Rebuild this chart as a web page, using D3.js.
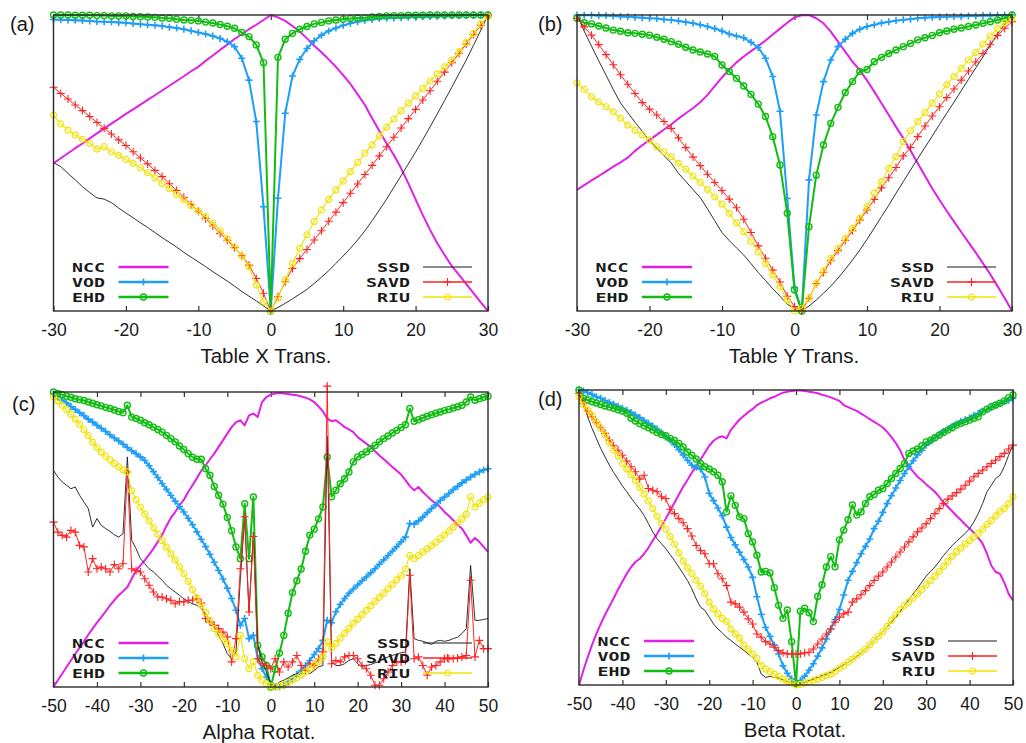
<!DOCTYPE html>
<html>
<head>
<meta charset="utf-8">
<script src="https://cdn.jsdelivr.net/npm/d3@7"></script>
<style>
  body { margin: 0; background: #fff; }
  svg  { display: block; }
</style>
</head>
<body>
<svg id="fig" width="1026" height="743"></svg>
<script>
// ── x grids & ticks ──────────────────────────────────────────────────────
const xTrans = d3.range(-30, 31);          // table translation, step 1
const xRot   = d3.range(-50, 51);          // rotation, step 1
const ticksTrans = [-30, -20, -10, 0, 10, 20, 30];
const ticksRot   = [-50, -40, -30, -20, -10, 0, 10, 20, 30, 40, 50];
const leftKeys  = ['NCC', 'VOD', 'EHD'];
const rightKeys = ['SSD', 'SAVD', 'RIU'];

// ── (a) Table X Trans. — normalised measure, % ───────────────────────────
const aNCC  = [49.9,51.6,53.3,55.0,56.6,58.3,60.0,61.7,63.3,64.9,66.6,68.1,69.7,71.3,72.9,74.5,76.1,77.7,79.3,81.0,82.5,84.5,86.3,88.2,90.0,91.9,93.5,95.2,96.7,98.3,100,
               99.2,98.0,96.3,94.4,92.1,89.6,87.4,85.0,82.5,79.7,76.7,73.2,69.6,65.1,60.8,56.6,52.7,48.2,43.1,37.7,32.4,27.4,22.9,18.9,15.2,12.2,9.1,6.0,2.9,0];
const aVOD  = [98.5,98.4,98.3,98.2,98.1,98.0,97.8,97.7,97.6,97.5,97.4,97.1,96.9,96.7,96.5,96.3,95.9,95.6,95.2,94.7,94.1,93.6,92.9,92.1,91.0,89.3,85.4,78.0,64.0,35.2,0,
               38.1,66.8,79.4,85.0,88.7,91.3,93.2,94.6,95.6,96.5,97.2,97.7,98.2,98.5,98.8,98.9,99.0,99.1,99.2,99.3,99.4,99.5,99.6,99.7,99.8,99.8,99.9,99.9,100,100];
const aEHD  = [100,100,100,99.9,99.9,99.9,99.8,99.8,99.7,99.7,99.7,99.5,99.4,99.3,99.2,99.0,98.9,98.6,98.3,98.2,98.0,97.6,97.3,96.8,96.2,95.5,94.1,92.7,89.9,83.9,0,
               85.7,91.8,93.8,95.2,96.1,97.0,97.5,98.0,98.3,98.6,98.8,99.0,99.1,99.3,99.5,99.7,99.8,99.8,99.9,99.9,99.9,100,100,100,100,100,100,100,100,100];
const aSSD  = [50.1,48.8,46.5,44.3,42.0,40.0,38.2,37.8,36.6,34.8,33.1,31.5,29.8,28.2,26.5,24.8,23.2,21.6,19.8,18.2,16.6,15.0,13.3,11.7,10.1,8.4,6.6,5.0,3.4,1.7,0,
               1.2,2.6,4.1,5.7,7.3,9.3,11.4,13.6,16.1,18.6,21.2,24.0,27.1,30.5,34.1,37.8,41.8,45.7,49.7,53.7,57.9,62.2,66.6,71.1,75.6,80.2,84.8,89.8,94.8,100];
const aSAVD = [75.6,73.5,71.6,69.6,67.7,65.7,63.7,61.7,59.8,57.8,55.9,53.8,51.7,49.7,47.5,45.4,43.0,40.7,38.4,36.0,33.7,31.2,28.7,26.2,23.9,21.4,18.7,15.5,11.0,6.0,0,
               4.8,9.9,14.4,17.7,20.8,24.0,27.1,30.3,33.4,36.6,39.8,42.9,46.1,49.2,52.4,55.5,58.7,61.8,65.0,68.1,71.3,74.4,77.6,80.7,83.9,87.0,90.2,93.4,96.5,99.7];
const aRIU  = [66.2,63.2,61.1,59.5,58.0,56.6,54.7,55.5,53.8,52.6,51.2,49.9,48.4,46.7,45.0,43.1,41.3,39.4,37.5,35.6,33.8,31.9,29.6,27.2,24.5,21.7,18.6,15.0,8.8,3.2,0,
               4.3,10.5,16.1,21.2,25.7,30.2,34.1,37.7,40.9,43.9,47.1,50.2,53.3,56.1,59.1,62.1,64.8,67.6,70.2,72.6,75.2,77.7,80.1,82.5,84.8,87.6,90.7,93.8,97.0,99.4];

// ── (b) Table Y Trans. ───────────────────────────────────────────────────
const bNCC  = [40.9,42.5,44.1,45.6,47.2,48.8,50.2,51.8,54.1,56.0,57.8,59.5,61.3,63.0,65.0,66.8,68.5,70.5,73.0,76.0,78.9,81.6,84.0,86.0,87.8,89.5,91.4,93.4,95.4,97.4,99.2,
               99.9,100,98.9,97.2,94.4,91.0,87.6,84.2,81.4,77.9,74.1,70.2,66.2,62.2,58.4,54.2,49.9,45.6,41.4,37.5,33.8,30.2,26.7,23.2,19.7,16.1,12.4,8.4,4.3,0];
const bVOD  = [100,99.9,99.9,99.8,99.8,99.7,99.5,99.4,99.2,99.1,98.9,98.8,98.5,98.3,98.0,97.6,97.2,96.7,96.1,95.4,94.6,93.6,92.9,92.3,90.8,89.0,85.4,79.2,67.5,38.0,8.0,
               0,44.3,66.2,77.5,84.8,89.3,91.8,93.8,95.2,96.1,96.7,97.3,97.7,98.1,98.4,98.6,98.9,99.1,99.2,99.3,99.4,99.5,99.5,99.7,99.7,99.8,99.8,99.9,99.9,100];
const bEHD  = [98.9,97.4,97.0,96.3,95.6,94.9,94.5,94.0,93.8,93.5,93.2,92.5,91.8,91.0,90.1,89.1,88.2,87.5,86.8,86.0,83.1,80.9,78.6,76.0,73.2,69.9,65.7,58.9,49.3,33.0,7.1,
               0,28.5,45.9,56.1,63.4,68.8,73.8,77.5,80.9,81.6,84.2,85.7,87.0,88.2,89.3,90.4,91.6,92.3,93.1,94.0,94.6,95.2,95.6,96.1,96.6,97.2,97.7,98.3,98.9,100];
const bSSD  = [100,94.5,89.5,84.5,79.7,74.8,70.3,67.0,63.8,60.7,57.5,55.0,52.5,50.0,46.5,43.8,41.0,38.3,34.5,30.5,26.5,23.8,21.3,18.9,16.0,13.0,10.3,7.5,5.0,2.3,0.8,
               0,1.7,3.7,6.0,8.4,11.1,14.1,17.2,20.6,24.2,28.0,31.9,35.7,39.8,43.7,47.6,51.5,55.3,59.1,63.0,66.8,70.6,74.4,78.3,82.1,85.9,89.8,93.6,97.0,100];
const bSAVD = [98.9,96.0,93.2,90.0,86.6,83.2,79.8,76.6,73.5,70.4,68.2,66.2,64.0,61.7,58.5,55.2,52.0,49.1,46.2,43.4,40.7,37.8,34.9,31.0,26.5,22.0,17.8,13.8,9.8,5.0,1.5,
               0,4.3,9.3,13.0,17.0,20.4,23.8,27.1,30.7,34.1,37.7,41.6,45.0,48.5,52.4,55.2,58.9,62.5,65.9,69.0,72.1,75.0,78.0,81.1,84.1,87.0,90.1,93.1,95.5,97.7];
const bRIU  = [77.1,74.9,72.4,70.6,69.0,67.3,65.1,62.8,61.1,59.5,57.8,55.5,53.8,52.1,49.9,47.9,45.6,43.4,41.1,38.6,36.1,33.0,29.8,26.8,23.4,20.0,16.1,12.2,8.2,3.7,0,
               0.9,4.3,9.3,13.6,17.8,21.2,24.5,27.9,31.3,35.2,39.8,43.7,48.2,52.1,57.2,60.9,64.0,67.0,70.2,73.3,76.4,79.2,82.0,84.8,87.3,90.2,92.9,95.4,97.4,98.9];

// ── (c) Alpha Rotat. ─────────────────────────────────────────────────────
const cNCC  = [0,2.3,4.5,6.8,9.0,11.2,13.3,15.4,17.7,19.8, 21.8,23.7,25.6,27.7,29.4,31.1,32.4,33.9,36.7,39.5,
               41.2,42.9,44.9,46.9,49.2,51.6,54.6,57.3,59.3,61.6, 63.5,66.1,68.4,70.8,73.3,75.1,77.2,79.1,81.4,83.6,
               85.9,88.1,89.8,90.4,88.7,92.1,92.7,91.5,96.6,98.3, 99.1,99.5,99.7,99.5,99.3,99.1,98.9,98.5,98.1,97.5,
               96.6,95.1,93.4,91.0,90.1,90.4,89.3,88.1,87.3,86.4, 84.7,83.6,82.5,81.4,79.9,78.5,77.2,75.9,74.6,73.3,
               72.0,70.1,68.1,66.7,67.8,66.1,64.7,63.3,62.1,61.0, 59.3,58.0,56.5,55.0,53.7,51.4,48.9,50.5,49.2,47.5,45.8];
const cVOD  = [99.4,98.4,97.3,96.3,95.1,94.1,93.0,92.0,90.8,89.8, 88.7,87.7,86.6,85.5,84.4,83.4,82.3,81.2,80.1,79.1,
               78.0,76.8,75.0,73.0,71.0,69.0,67.0,65.0,63.0,61.2, 59.3,57.2,55.0,52.6,50.1,47.6,45.0,42.3,39.5,36.6,
               33.5,30.0,26.0,20.9,23.2,16.4,17.5,9.6,6.2,3.4, 1.1,0,0,0.6,1.7,2.8,4.2,5.6,7.3,9.0,
               11.0,13.0,15.8,22.6,21.8,25.5,28.0,30.0,31.8,33.2, 34.6,36.0,37.3,38.7,40.1,41.6,43.1,44.6,46.1,47.6,
               49.2,50.8,55.4,55.2,56.3,57.6,59.1,60.5,61.8,63.2, 64.4,65.6,66.9,68.0,69.2,70.2,71.2,72.1,72.9,73.6,74.0];
const cEHD  = [100,99.5,99.1,98.6,98.2,97.7,97.4,97.1,96.6,96.2, 95.7,95.3,94.8,94.4,93.9,93.4,93.0,95.5,91.5,91.0,
               90.4,89.6,88.9,88.1,87.3,86.4,85.3,84.2,83.1,81.7, 80.5,79.1,77.9,77.2,77.2,74.0,71.8,68.0,65.0,62.0,
               57.5,53.0,47.5,43.5,62.1,43.5,64.4,14.1,10.2,7.3, 0,6.0,11.5,17.5,25.0,32.0,36.0,40.0,46.0,51.5,
               53.5,57.0,61.0,78.0,64.5,66.7,68.9,70.6,72.9,76.3, 78.0,78.8,79.7,80.8,81.9,83.1,84.2,85.1,86.1,87.0,
               88.0,88.9,94.4,90.1,90.6,91.2,91.8,92.3,92.8,93.2, 93.7,94.1,94.6,95.0,95.5,96.6,98.3,97.2,97.7,98.2,98.6];
const cSSD  = [73.4,71.2,69.5,68.4,67.2,67.8,65.0,62.7,60.5,54.2, 57.1,54.8,53.7,52.8,51.6,50.8,52.0,78.0,49.7,46.9,
               43.5,41.8,40.1,39.0,37.6,36.2,34.5,33.3,32.2,31.1, 29.9,29.0,28.2,27.7,26.6,24.9,22.6,20.3,17.5,14.7,
               11.3,9.6,11.9,36.7,57.1,25.4,52.5,14.1,8.5,5.1, 1.1,0.6,1.7,2.3,3.1,4.0,4.5,5.1,6.2,4.5,
               5.6,6.8,7.3,85.0,8.5,7.3,7.3,7.9,9.0,9.6, 7.9,6.8,7.3,7.6,8.2,8.7,9.6,10.2,10.7,11.2,
               11.6,11.9,40.1,16.4,15.8,15.5,15.0,14.4,15.5,15.8, 15.5,15.8,16.4,16.9,18.1,19.8,41.2,22.6,22.6,22.9,23.2];
const cSAVD = [55.9,52.5,51.4,50.8,53.1,52.5,48.0,47.5,39.0,43.5, 40.1,40.7,40.1,39.0,41.5,40.1,41.8,72.9,40.1,39.5,
               39.0,36.7,34.5,32.2,30.5,30.5,29.9,29.4,28.2,29.0, 28.8,29.4,29.4,29.9,28.5,23.2,22.0,20.9,19.8,18.6,
               17.0,8.5,16.4,40.1,57.7,25.4,51.0,9.6,7.9,7.3, 6.2,9.6,5.1,8.5,6.8,8.5,10.7,7.3,5.6,7.9,
               7.3,9.6,11.9,102,7.9,9.0,8.5,10.2,10.7,10.7, 9.6,7.3,6.2,4.0,0.6,0.6,2.8,5.1,7.3,8.5,
               8.5,9.0,37.9,9.6,10.2,7.3,4.0,6.8,7.3,8.5, 9.6,9.6,9.6,9.8,10.2,10.7,36.2,10.2,15.8,13.0,13.0];
const cRIU  = [98.3,97.0,95.5,94.0,92.5,90.8,89.0,87.2,85.2,83.0, 81.2,79.6,78.2,77.0,75.8,74.6,73.6,72.9,66.5,63.5,
               61.0,58.6,56.3,54.0,51.8,49.6,47.4,45.2,43.0,40.7, 38.4,35.8,33.0,30.2,27.7,25.2,22.6,19.8,18.1,16.4,
               14.7,12.4,10.2,17.5,9.6,6.2,8.5,4.0,2.3,1.1, 0.3,0,0.3,0.8,1.5,2.3,3.1,4.0,5.1,6.2,
               7.3,8.7,10.2,15.3,13.2,14.8,16.5,18.2,19.9,21.6, 23.0,24.5,26.0,27.5,29.0,30.4,31.8,33.3,34.8,36.3,
               37.8,40.0,44.6,43.5,44.6,45.7,46.8,47.9,49.0,50.3, 51.6,52.9,54.2,55.6,57.0,58.6,64.5,61.0,62.3,63.5,64.4];

// ── (d) Beta Rotat. ──────────────────────────────────────────────────────
const dNCC  = [0,4.9,9.4,13.6,17.3,20.7,23.8,26.6,29.4,32.4, 35.1,37.7,40.0,41.7,42.8,44.5,46.5,49.0,51.3,53.8,
               56.4,59.2,61.8,64.6,67.2,69.5,72.0,74.2,76.4,78.7, 81.1,82.8,83.8,84.3,83.6,86.5,88.3,90.0,91.3,92.5,
               93.5,94.9,95.7,96.4,97.2,97.7,98.4,99.1,99.4,99.7, 99.8,99.8,99.7,99.4,99.2,98.9,98.4,98.0,97.5,96.9,
               96.3,94.9,94.2,93.5,92.9,92.0,91.1,90.1,89.2,88.3, 87.3,85.8,84.0,82.0,79.6,76.2,74.0,72.3,70.6,69.4,
               68.0,66.8,65.5,63.8,61.7,60.4,58.9,57.3,55.9,54.4, 53.0,51.6,49.9,47.9,44.5,40.5,38.3,37.7,34.7,30.9,28.7];
const dVOD  = [100,99.7,99.1,98.5,97.7,97.2,96.4,95.8,95.2,94.5, 93.8,93.1,92.4,91.5,90.7,89.7,88.7,87.8,86.8,85.5,
               84.1,83.0,81.5,79.8,78.0,76.2,74.5,73.8,73.2,70.5, 65.0,62.5,60.0,57.4,53.5,50.0,47.5,45.0,42.5,40.0,
               36.5,29.9,24.0,19.5,16.5,13.5,10.5,6.5,4.0,2.0, 0.3,1.5,3.0,5.0,7.2,9.8,12.6,15.6,19.0,22.2,
               25.6,30.5,35.5,38.5,41.5,44.5,47.0,49.5,53.0,55.5, 58.5,61.5,64.2,66.8,69.3,71.7,74.0,76.0,78.0,79.6,
               81.3,82.6,83.8,84.9,85.9,86.8,87.7,88.5,89.3,89.9, 90.6,91.4,92.1,92.8,93.4,94.1,94.8,95.4,96.0,96.5,97.2];
const dEHD  = [100,97.2,96.6,96.0,95.6,95.1,94.6,94.2,93.8,93.3, 92.9,92.1,90.4,89.5,88.6,87.9,87.2,86.4,85.6,84.9,
               84.5,83.6,82.9,81.9,80.7,79.0,77.9,76.6,75.1,74.0, 73.2,72.3,71.1,68.9,58.7,64.1,60.9,57.0,56.4,51.3,
               48.5,44.0,38.3,38.5,38.0,33.0,27.0,22.6,25.4,14.7, 0.3,25.0,26.0,24.5,21.5,30.0,34.0,40.0,43.5,40.1,
               49.2,52.5,56.0,61.0,57.6,58.7,61.5,63.8,64.6,66.0, 66.6,68.3,70.0,71.7,73.4,75.1,78.5,79.3,80.0,81.1,
               82.4,83.0,83.8,84.7,85.6,86.4,87.2,88.1,88.7,89.2, 89.8,90.4,90.9,92.6,93.5,94.3,94.9,95.5,96.3,97.4,98.3];
const dSSD  = [100,95.5,90.9,87.0,83.6,80.2,77.3,74.5,72.0,69.8, 67.5,65.5,63.4,61.5,59.6,57.5,54.7,51.9,49.6,47.9,
               46.2,44.2,42.2,40.0,37.7,35.4,32.6,29.2,26.4,25.3, 23.0,20.7,19.0,17.7,16.2,15.1,13.9,12.8,11.7,10.5,
               9.4,7.7,3.7,2.6,2.9,2.6,2.3,1.8,1.2,0.6, 0,0.3,0.9,1.5,2.0,2.6,3.2,3.7,4.3,5.1,
               6.0,6.9,7.7,8.6,9.7,10.9,12.2,13.6,15.1,16.5, 18.1,19.7,21.3,23.0,24.9,27.0,29.0,30.9,32.8,34.9,
               36.9,38.5,40.0,41.9,43.9,45.6,47.3,48.7,50.1,51.4, 53.0,55.3,58.1,61.5,65.5,67.7,70.0,71.1,74.0,77.9,81.3];
const dSAVD = [98.9,95.5,92.9,90.9,89.0,87.2,85.3,83.0,81.1,79.6, 77.9,75.9,74.0,72.3,69.8,71.1,66.6,66.0,65.5,63.8,
               63.2,59.6,58.1,56.4,55.0,53.0,50.5,47.3,45.6,44.5, 41.1,41.1,37.7,36.0,33.7,28.1,27.5,26.4,24.7,22.4,
               20.7,17.3,16.2,14.7,13.9,12.8,11.7,10.9,10.5,10.5, 10.5,10.5,10.9,11.1,12.2,13.9,15.6,17.3,19.0,21.3,
               23.0,24.1,24.7,28.1,29.2,30.6,32.0,33.7,35.4,36.9, 38.3,40.0,41.7,43.4,45.1,46.8,48.5,50.2,51.9,53.2,
               54.7,56.4,58.1,59.8,61.5,63.0,64.1,65.2,66.4,67.7, 69.1,70.6,71.7,72.8,74.0,75.1,76.2,77.4,78.5,80.0,81.3];
const dRIU  = [97.7,94.9,93.2,91.5,89.2,87.2,84.7,82.2,79.6,77.7, 75.0,73.2,71.3,69.3,67.0,64.7,62.3,59.8,57.2,54.8,
               52.8,50.3,47.8,44.8,42.0,39.8,37.8,35.5,33.5,31.0, 28.1,25.8,24.1,22.6,21.5,19.0,17.3,15.9,13.5,12.2,
               10.5,9.0,6.6,5.4,4.5,3.7,2.9,2.0,1.4,0.7, 0,0.2,0.7,1.1,1.6,2.0,2.6,3.2,3.7,4.6,
               5.7,6.6,7.7,8.8,10.0,11.1,12.2,13.6,15.1,16.5, 18.1,19.9,21.9,23.8,25.6,27.0,28.1,29.4,30.9,32.4,
               34.0,35.4,36.9,38.5,40.2,41.9,43.6,45.1,46.4,47.8, 49.0,50.2,51.3,52.8,54.4,55.8,57.3,58.9,59.8,61.5,63.8];

// ── Styles ───────────────────────────────────────────────────────────────
const STYLE = {
  NCC:  { color: '#e020e6', width: 2,   keyWidth: 2.6, mark: null },
  VOD:  { color: '#1f9ef5', width: 2,   keyWidth: 2.6, mark: 'plus',   size: 3.5, mw: 1.6 },
  EHD:  { color: '#12bd12', width: 2,   keyWidth: 2.6, mark: 'circle', size: 3,   mw: 1.4 },
  SSD:  { color: '#1a1a1a', width: 0.9, keyWidth: 1.2, mark: null },
  SAVD: { color: '#ff2222', width: 1,   keyWidth: 1.3, mark: 'plus',   size: 4,   mw: 1.1 },
  RIU:  { color: '#f2e400', width: 1.1, keyWidth: 1.4, mark: 'circle', size: 3,   mw: 1.2 },
};

const PANELS = [
  { tag: '(a)', tagX: 10,  tagY: 31,  title: 'Table X Trans.', titleX: 266,
    xs: xTrans, ticks: ticksTrans, box: [53.5, 488, 15, 311],
    data: { NCC: aNCC, VOD: aVOD, EHD: aEHD, SSD: aSSD, SAVD: aSAVD, RIU: aRIU } },
  { tag: '(b)', tagX: 538, tagY: 31,  title: 'Table Y Trans.', titleX: 794,
    xs: xTrans, ticks: ticksTrans, box: [577, 1012, 15, 311],
    data: { NCC: bNCC, VOD: bVOD, EHD: bEHD, SSD: bSSD, SAVD: bSAVD, RIU: bRIU } },
  { tag: '(c)', tagX: 12,  tagY: 411, title: 'Alpha Rotat.',   titleX: 259,
    xs: xRot, ticks: ticksRot, box: [53.5, 488, 392, 687],
    data: { NCC: cNCC, VOD: cVOD, EHD: cEHD, SSD: cSSD, SAVD: cSAVD, RIU: cRIU } },
  { tag: '(d)', tagX: 538, tagY: 406, title: 'Beta Rotat.',    titleX: 795,
    xs: xRot, ticks: ticksRot, box: [579, 1013, 390, 685],
    data: { NCC: dNCC, VOD: dVOD, EHD: dEHD, SSD: dSSD, SAVD: dSAVD, RIU: dRIU } },
];

const svg = d3.select('#fig');
svg.append('rect').attr('width', 1026).attr('height', 743).attr('fill', '#fff');

PANELS.forEach(drawPanel);

function drawMark(sel, st) {
  if (st.mark === 'plus') {
    const s = st.size;
    sel.append('path')
      .attr('d', `M${-s},0H${s}M0,${-s}V${s}`)
      .attr('stroke', st.color).attr('stroke-width', st.mw).attr('fill', 'none');
  } else if (st.mark === 'circle') {
    sel.append('circle').attr('r', st.size)
      .attr('stroke', st.color).attr('stroke-width', st.mw).attr('fill', 'none');
  }
}

function drawPanel(p) {
  const [x0, x1, y0, y1] = p.box;
  const x = d3.scaleLinear().domain(d3.extent(p.xs)).range([x0, x1]);
  const y = d3.scaleLinear().domain([0, 100]).range([y1, y0]);
  const g = svg.append('g');

  // axes: ticks inward at bottom, mirrored at top
  const fmt = d => String(d);
  g.append('g').attr('transform', `translate(0,${y1})`)
    .call(d3.axisBottom(x).tickValues(p.ticks).tickSize(-5).tickPadding(13).tickFormat(fmt))
    .call(a => a.select('.domain').remove())
    .call(a => a.selectAll('line').attr('stroke', '#333').attr('stroke-width', 1.2))
    .call(a => a.selectAll('text')
      .attr('font-family', 'Liberation Sans, Arial, sans-serif')
      .attr('font-size', 17.5).attr('fill', '#1a1a1a'));
  g.append('g').attr('transform', `translate(0,${y0})`)
    .call(d3.axisTop(x).tickValues(p.ticks).tickSize(-5).tickFormat(''))
    .call(a => a.select('.domain').remove())
    .call(a => a.selectAll('line').attr('stroke', '#333').attr('stroke-width', 1.2));

  // series
  const line = d3.line().x((d, i) => x(p.xs[i])).y(d => y(d));
  Object.keys(STYLE).forEach(k => {
    const st = STYLE[k];
    const vals = p.data[k];
    g.append('path').datum(vals)
      .attr('d', line).attr('fill', 'none')
      .attr('stroke', st.color).attr('stroke-width', st.width)
      .attr('stroke-linejoin', 'round');
    if (st.mark) {
      g.append('g').selectAll('g').data(vals).join('g')
        .attr('transform', (d, i) => `translate(${x(p.xs[i])},${y(d)})`)
        .each(function () { drawMark(d3.select(this), st); });
    }
  });

  // frame
  g.append('rect')
    .attr('x', x0).attr('y', y0).attr('width', x1 - x0).attr('height', y1 - y0)
    .attr('fill', 'none').attr('stroke', '#2a2a2a').attr('stroke-width', 1.4);

  // key
  const rows = [y1 - 44, y1 - 29, y1 - 14];
  const cols = [
    { keys: leftKeys,  textX: x0 + 51.5, l0: x0 + 65, l1: x0 + 115 },
    { keys: rightKeys, textX: x1 - 78,   l0: x1 - 65, l1: x1 - 16 },
  ];
  cols.forEach(c => c.keys.forEach((k, i) => {
    const st = STYLE[k];
    const ry = rows[i];
    g.append('text').text(k)
      .attr('x', c.textX).attr('y', ry + 4.5)
      .attr('text-anchor', 'end')
      .attr('font-family', 'DejaVu Sans Mono, monospace').attr('font-weight', 'bold')
      .attr('font-size', 12.3).attr('fill', '#1a1a1a')
      .attr('textLength', k.length * 11).attr('lengthAdjust', 'spacingAndGlyphs');
    g.append('line')
      .attr('x1', c.l0).attr('x2', c.l1).attr('y1', ry).attr('y2', ry)
      .attr('stroke', st.color).attr('stroke-width', st.keyWidth);
    if (st.mark) {
      drawMark(g.append('g').attr('transform', `translate(${(c.l0 + c.l1) / 2},${ry})`), st);
    }
  }));

  // labels
  g.append('text').text(p.title)
    .attr('x', p.titleX).attr('y', y1 + 52)
    .attr('text-anchor', 'middle')
    .attr('font-family', 'Liberation Sans, Arial, sans-serif')
    .attr('font-size', 20.5).attr('fill', '#1a1a1a');
  g.append('text').text(p.tag)
    .attr('x', p.tagX).attr('y', p.tagY)
    .attr('font-family', 'Liberation Sans, Arial, sans-serif')
    .attr('font-size', 20).attr('fill', '#1a1a1a');
}
</script>
</body>
</html>
